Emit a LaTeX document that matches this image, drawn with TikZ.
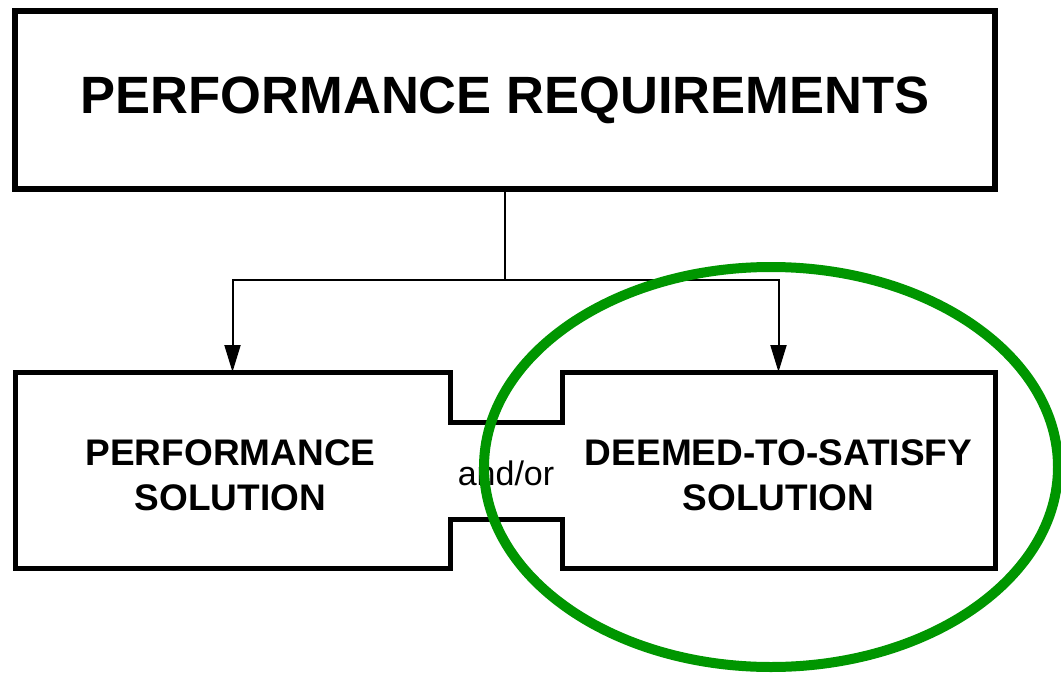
\documentclass[tikz,border=0pt]{standalone}
\usepackage{fontspec}
\newfontfamily\arialfont{Liberation Sans}
\usetikzlibrary{arrows.meta}
\definecolor{ringgreen}{RGB}{0,150,0}

\tikzset{
  solbox/.style={draw=none, inner sep=0pt, outer sep=0pt, minimum height=196pt},
  soltext/.style={inner sep=0pt, align=center, font=\arialfont\bfseries\fontsize{37}{45}\selectfont},
  feed/.style={line width=2pt, -{Triangle[length=27pt,width=16pt]}},
}

\begin{document}
\begin{tikzpicture}[x=1pt,y=-1pt]
\useasboundingbox (0,0) rectangle (1061,680);

\node[draw, line width=5.5pt, minimum width=980pt, minimum height=178pt, inner sep=0pt, outer sep=0pt,
  font=\arialfont\bfseries\fontsize{52.5}{60}\selectfont] (req) at (505,100) {PERFORMANCE REQUIREMENTS};

\node[solbox, minimum width=435pt] (perf) at (232.5,470) {};
\node[solbox, minimum width=433pt] (dts) at (778.5,470) {};
\node[soltext] (perftext) at ([xshift=-2pt,yshift=-5pt]perf.center) {PERFORMANCE\\SOLUTION};
\node[soltext] (dtstext) at ([yshift=-5pt]dts.center) {DEEMED-TO-SATISFY\\SOLUTION};
\node[font=\arialfont\fontsize{34}{40}\selectfont, inner sep=0pt, anchor=base] (andor) at (506,485) {and/or};

% both solutions joined by the bridge
\draw[line width=5pt, line join=miter] (perf.north west) -- (perf.north east) -- ++(0,50) -| (dts.north west)
  -- (dts.north east) -- (dts.south east) -- (dts.south west) -- ++(0,-49) -| (perf.south east)
  -- (perf.south west) -- cycle;

\coordinate (split) at (505,280);
\draw[line width=2pt] (req.south) -- (split);
\draw[feed] (split) -| (perf.north);
\draw[feed] (split) -| (dts.north);

\begin{scope}
\clip (0,0) rectangle (1061,680);
\draw[ringgreen, line width=10pt] (771,467) ellipse [x radius=287, y radius=200];
\end{scope}

\end{tikzpicture}
\end{document}
